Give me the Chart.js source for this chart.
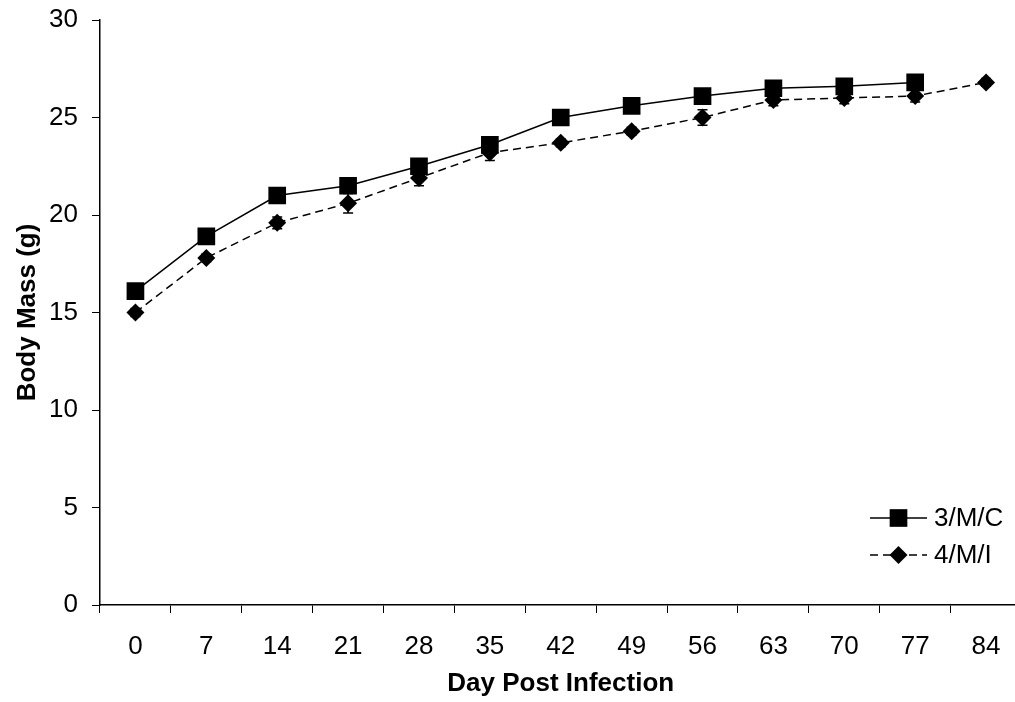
<!DOCTYPE html>
<html>
<head>
<meta charset="utf-8">
<script src="https://cdn.jsdelivr.net/npm/chart.js@4"></script>
<style>
  html, body { margin: 0; padding: 0; background: #fff; overflow: hidden; }
  #wrap { width: 1034px; height: 702px; }
</style>
</head>
<body>
<div id="wrap"><canvas id="canvas1" width="1034" height="702"></canvas></div>
<script>
// Body mass over the course of infection, two groups
const days = ['0', '7', '14', '21', '28', '35', '42', '49', '56', '63', '70', '77', '84']
const massControl = [16.1, 18.9, 21.0, 21.5, 22.5, 23.6, 25.0, 25.6, 26.1, 26.5, 26.6, 26.8, null]
const errControl = [0.2, 0.2, 0.4, 0.3, 0.3, 0.3, 0.2, 0.2, 0.3, 0.2, 0.3, 0.3, null]
const massInfected = [15.0, 17.8, 19.6, 20.6, 21.9, 23.2, 23.7, 24.3, 25.0, 25.9, 26.0, 26.1, 26.8]
const errInfected = [0.2, 0.2, 0.3, 0.5, 0.4, 0.4, 0.2, 0.2, 0.4, 0.3, 0.3, 0.3, 0.2]
const yTicks = [0, 5, 10, 15, 20, 25, 30]

const FONT = "'Liberation Sans', Arial, sans-serif"

// vertical error bars with small caps
const errorBars = {
    id: 'errorBars',
    afterDatasetsDraw(chart) {
        const ctx = chart.ctx
        const y = chart.scales.y
        ctx.save()
        ctx.strokeStyle = '#000'
        ctx.lineWidth = 1.5
        chart.data.datasets.forEach((ds, i) => {
            const meta = chart.getDatasetMeta(i)
            meta.data.forEach((pt, j) => {
                const v = ds.data[j]
                const e = ds.errors[j]
                if (v == null || e == null) return
                const top = y.getPixelForValue(v + e)
                const bot = y.getPixelForValue(v - e)
                ctx.beginPath()
                ctx.moveTo(pt.x, top); ctx.lineTo(pt.x, bot)
                ctx.moveTo(pt.x - 5, top); ctx.lineTo(pt.x + 5, top)
                ctx.moveTo(pt.x - 5, bot); ctx.lineTo(pt.x + 5, bot)
                ctx.stroke()
            })
        })
        ctx.restore()
    }
}

// legend entries drawn as a line segment with the marker in the middle
const lineLegend = {
    id: 'lineLegend',
    afterDraw(chart) {
        const ctx = chart.ctx
        const x0 = 870, x1 = 927
        const rows = [518, 555]
        ctx.save()
        chart.data.datasets.forEach((ds, i) => {
            const yy = rows[i]
            ctx.strokeStyle = '#000'
            ctx.lineWidth = 1.5
            ctx.setLineDash(ds.borderDash || [])
            ctx.beginPath()
            ctx.moveTo(x0, yy); ctx.lineTo(x1, yy)
            ctx.stroke()
            ctx.setLineDash([])
            Chart.helpers.drawPoint(ctx, {
                pointStyle: ds.pointStyle,
                radius: ds.pointRadius,
                rotation: 0,
                borderWidth: 0
            }, (x0 + x1) / 2, yy)
            ctx.fillStyle = '#000'
            ctx.font = '26px ' + FONT
            ctx.textBaseline = 'middle'
            ctx.fillText(ds.label, x1 + 7, yy + 1)
        })
        ctx.restore()
    }
}

const config = {
    type: 'line',
    data: {
        labels: days,
        datasets: [
            {
                label: '3/M/C',
                data: massControl,
                errors: errControl,
                borderColor: '#000',
                backgroundColor: '#000',
                borderWidth: 1.5,
                pointStyle: 'rect',
                pointRadius: 12.5,
                pointBorderWidth: 0,
                tension: 0
            },
            {
                label: '4/M/I',
                data: massInfected,
                errors: errInfected,
                borderColor: '#000',
                backgroundColor: '#000',
                borderWidth: 1.5,
                borderDash: [8, 5],
                pointStyle: 'rectRot',
                pointRadius: 9,
                pointBorderWidth: 0,
                tension: 0
            }
        ]
    },
    options: {
        responsive: false,
        animation: false,
        layout: {
            padding: { top: 20, right: 3, left: 12, bottom: 3 }
        },
        plugins: {
            legend: { display: false },
            tooltip: { enabled: false }
        },
        scales: {
            x: {
                type: 'category',
                offset: true,
                afterFit(scale) {
                    scale.height = 94
                    scale.paddingLeft = 0
                    scale.paddingRight = 0
                },
                grid: {
                    offset: true,
                    drawOnChartArea: false,
                    color: '#000',
                    tickLength: 8,
                    tickColor: '#000'
                },
                border: { color: '#000', width: 1.5 },
                ticks: {
                    color: '#000',
                    font: { size: 26, family: FONT },
                    padding: 18,
                    maxRotation: 0
                },
                title: {
                    display: true,
                    text: 'Day Post Infection',
                    color: '#000',
                    font: { size: 26, weight: 'bold', family: FONT },
                    padding: { top: 4, bottom: 0 }
                }
            },
            y: {
                min: 0,
                max: 30,
                afterBuildTicks(scale) {
                    scale.ticks = yTicks.map(v => ({ value: v }))
                },
                afterFit(scale) {
                    scale.width = 88
                    scale.paddingTop = 0
                    scale.paddingBottom = 0
                },
                grid: {
                    drawOnChartArea: false,
                    color: '#000',
                    tickLength: 8,
                    tickColor: '#000'
                },
                border: { color: '#000', width: 1.5 },
                ticks: {
                    color: '#000',
                    font: { size: 26, family: FONT },
                    padding: 14
                },
                title: {
                    display: true,
                    text: 'Body Mass (g)',
                    color: '#000',
                    font: { size: 26, weight: 'bold', family: FONT },
                    padding: { top: 0, bottom: 6 }
                }
            }
        }
    },
    plugins: [errorBars, lineLegend]
}

const canvas = document.getElementById('canvas1')
new Chart(canvas.getContext('2d'), config)
</script>
</body>
</html>
